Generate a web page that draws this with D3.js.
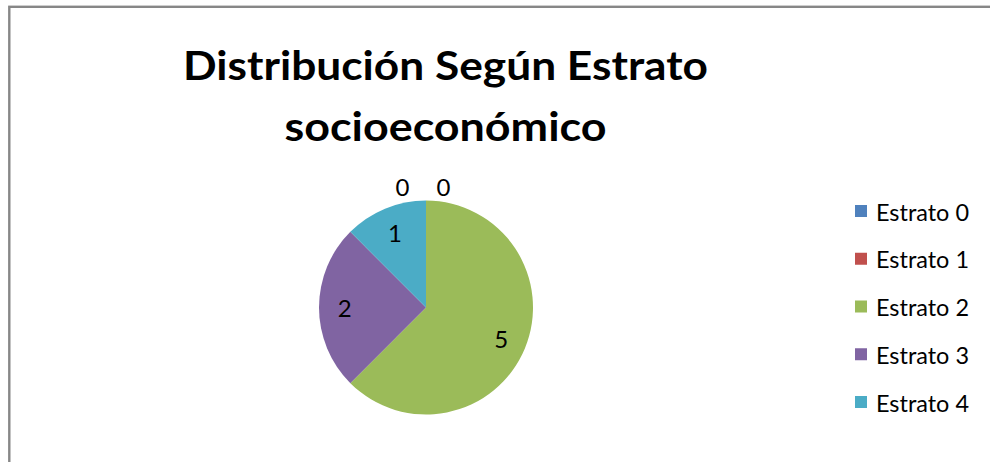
<!DOCTYPE html>
<html>
<head>
<meta charset="utf-8">
<script src="https://cdn.jsdelivr.net/npm/d3@7"></script>
<style>
  html, body { margin: 0; padding: 0; background: #ffffff; }
  svg { display: block; }
  text { font-family: Lato, "Open Sans", sans-serif; fill: #000; }
</style>
</head>
<body>
<svg id="chart" width="990" height="462"></svg>
<script>
// Chart data
const categories = ["Estrato 0", "Estrato 1", "Estrato 2", "Estrato 3", "Estrato 4"];
const values = [0, 0, 5, 2, 1];
const colors = ["#4F81BD", "#C0504D", "#9BBB59", "#8064A2", "#4BACC6"];
const titleLines = ["Distribución Según Estrato", "socioeconómico"];

const W = 990, H = 462;
const svg = d3.select("#chart");

// Chart area frame (only its top and left edges fall inside the view)
svg.append("rect")
  .attr("x", 9.3).attr("y", 6.8)
  .attr("width", 1200).attr("height", 800)
  .attr("fill", "#fff")
  .attr("stroke", "#878787")
  .attr("stroke-width", 2.4);

// Title
const titleX = 445.5;
const titleWidths = [525, 322];
svg.append("g").selectAll("text")
  .data(titleLines)
  .join("text")
  .attr("x", titleX)
  .attr("y", (d, i) => 80 + i * 61)
  .attr("text-anchor", "middle")
  .attr("font-size", 41)
  .attr("font-weight", 700)
  .attr("textLength", (d, i) => titleWidths[i])
  .attr("lengthAdjust", "spacingAndGlyphs")
  .text(d => d);

// Pie
const cx = 426, cy = 307.5, r = 107;
const data = categories.map((c, i) => ({ name: c, value: values[i], color: colors[i] }));
const pie = d3.pie().value(d => d.value).sort(null).startAngle(0).endAngle(2 * Math.PI);
const arcs = pie(data);
const arc = d3.arc().innerRadius(0).outerRadius(r);
const labelArc = d3.arc().innerRadius(r * 0.76).outerRadius(r * 0.76);

const g = svg.append("g").attr("transform", `translate(${cx},${cy})`);
g.selectAll("path")
  .data(arcs.filter(a => a.data.value > 0))
  .join("path")
  .attr("d", arc)
  .attr("fill", d => d.data.color);

// Data labels: non-zero slices inside, zero slices side by side just outside the top
const zeroArcs = arcs.filter(a => a.data.value === 0);
const labelPos = a => {
  if (a.data.value > 0) return labelArc.centroid(a);
  const k = zeroArcs.indexOf(a);
  const mid = (a.startAngle + a.endAngle) / 2;
  const rr = r + 14;
  return [Math.sin(mid) * rr - 3 + (k - (zeroArcs.length - 1) / 2) * 41, -Math.cos(mid) * rr];
};
g.selectAll("text.lbl")
  .data(arcs)
  .join("text")
  .attr("class", "lbl")
  .attr("x", d => labelPos(d)[0])
  .attr("y", d => labelPos(d)[1])
  .attr("text-anchor", "middle")
  .attr("dominant-baseline", "central")
  .attr("font-size", 24)
  .text(d => d.data.value);

// Legend
const ly = d3.scalePoint().domain(categories).range([211, 402]);
const legend = svg.append("g").selectAll("g")
  .data(data)
  .join("g")
  .attr("transform", d => `translate(855,${ly(d.name)})`);
legend.append("rect")
  .attr("x", 0).attr("y", -6)
  .attr("width", 12).attr("height", 12)
  .attr("fill", d => d.color);
legend.append("text")
  .attr("x", 21)
  .attr("y", 0)
  .attr("dominant-baseline", "central")
  .attr("font-size", 24)
  .attr("textLength", 93)
  .attr("lengthAdjust", "spacingAndGlyphs")
  .text(d => d.name);
</script>
</body>
</html>
